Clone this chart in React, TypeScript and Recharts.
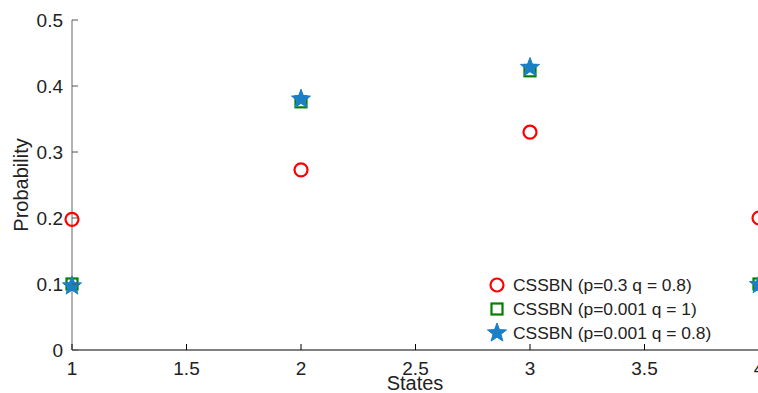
import React from 'react';
import { ScatterChart, Scatter, XAxis, YAxis, Label } from 'recharts';

const states = [1, 2, 3, 4];
const seriesA = [0.198, 0.273, 0.33, 0.2]; // p=0.3 q=0.8
const seriesB = [0.1, 0.376, 0.423, 0.1]; // p=0.001 q=1
const seriesC = [0.097, 0.38, 0.428, 0.099]; // p=0.001 q=0.8
const xTicks = [1, 1.5, 2, 2.5, 3, 3.5, 4];
const yTicks = [0, 0.1, 0.2, 0.3, 0.4, 0.5];
const names = ['CSSBN (p=0.3 q = 0.8)', 'CSSBN (p=0.001 q = 1)', 'CSSBN (p=0.001 q = 0.8)'];

const RED = '#ff0000';
const GREEN = '#008000';
const BLUE = '#1b7fc6';
const FONT = '"Liberation Sans", Arial, Helvetica, sans-serif';

const dataA = states.map((s, i) => ({ x: s, y: seriesA[i] }));
const dataB = states.map((s, i) => ({ x: s, y: seriesB[i] }));
const dataC = states.map((s, i) => ({ x: s, y: seriesC[i] }));

const starPath = (cx: number, cy: number, R: number, r: number) => {
  let d = '';
  for (let i = 0; i < 10; i++) {
    const rad = i % 2 === 0 ? R : r;
    const a = -Math.PI / 2 + (i * Math.PI) / 5;
    d += (i === 0 ? 'M' : 'L') + (cx + rad * Math.cos(a)).toFixed(2) + ',' + (cy + rad * Math.sin(a)).toFixed(2);
  }
  return d + 'Z';
};

const Circle = (p: any) => <circle cx={p.cx} cy={p.cy} r={6.5} fill="none" stroke={RED} strokeWidth={2.2} />;
const Square = (p: any) => <rect x={p.cx - 5.5} y={p.cy - 5.5} width={11} height={11} fill="none" stroke={GREEN} strokeWidth={2.2} />;
const Star = (p: any) => (
  <path d={starPath(p.cx, p.cy, 10, 4.2)} fill={BLUE} stroke={BLUE} strokeWidth={1} />
);

const XTick = (p: any) => {
  const { x, y, payload } = p;
  return (
    <g>
      <line x1={x} x2={x} y1={y} y2={y - 6} stroke="#000" strokeWidth={1} />
      <text x={x} y={y + 25} textAnchor="middle" fontSize={19} fontFamily={FONT} fill="#222">
        {payload.value}
      </text>
    </g>
  );
};

const YTick = (p: any) => {
  const { x, y, payload } = p;
  return (
    <g>
      <line x1={x} x2={x + 6} y1={y} y2={y} stroke="#555" strokeWidth={1} />
      <text x={x - 9} y={y} dy="0.36em" textAnchor="end" fontSize={19} fontFamily={FONT} fill="#222">
        {payload.value}
      </text>
    </g>
  );
};

const LegendBox = () => {
  const markers = [
    <circle cx={10} cy={10} r={6.5} fill="none" stroke={RED} strokeWidth={2.2} />,
    <rect x={4.5} y={4.5} width={11} height={11} fill="none" stroke={GREEN} strokeWidth={2.2} />,
    <path d={starPath(10, 10, 10, 4.2)} fill={BLUE} stroke={BLUE} strokeWidth={1} />,
  ];
  return (
    <div style={{ position: 'absolute', left: 487, top: 273, fontFamily: FONT, fontSize: 17.4, color: '#222', whiteSpace: 'nowrap' }}>
      {names.map((n, i) => (
        <div key={n} style={{ display: 'flex', alignItems: 'center', height: 24 }}>
          <svg width={20} height={20} style={{ marginRight: 6 }}>
            {markers[i]}
          </svg>
          <span>{n}</span>
        </div>
      ))}
    </div>
  );
};

export default function App() {
  return (
    <div style={{ position: 'absolute', left: 0, top: 0, width: 758, height: 393, overflow: 'hidden', background: '#fff' }}>
      <ScatterChart width={800} height={393} margin={{ top: 20, right: 41, bottom: 0, left: 0 }}>
        <XAxis
          type="number"
          dataKey="x"
          domain={[1, 4]}
          ticks={xTicks}
          tick={<XTick />}
          tickLine={false}
          tickSize={0}
          tickMargin={0}
          height={43}
          stroke="#000"
          axisLine={{ stroke: '#000', strokeWidth: 1 }}
        >
          <Label
            content={() => (
              <text x={415} y={390} textAnchor="middle" fontSize={20} fontFamily={FONT} fill="#222">
                States
              </text>
            )}
          />
        </XAxis>
        <YAxis
          type="number"
          dataKey="y"
          domain={[0, 0.5]}
          ticks={yTicks}
          tick={<YTick />}
          tickLine={false}
          tickSize={0}
          tickMargin={0}
          width={72}
          axisLine={{ stroke: '#666', strokeWidth: 1 }}
        >
          <Label
            content={() => (
              <text x={28} y={185} transform="rotate(-90 28 185)" textAnchor="middle" fontSize={20} fontFamily={FONT} fill="#222">
                Probability
              </text>
            )}
          />
        </YAxis>
        <Scatter name={names[0]} data={dataA} shape={<Circle />} isAnimationActive={false} />
        <Scatter name={names[1]} data={dataB} shape={<Square />} isAnimationActive={false} />
        <Scatter name={names[2]} data={dataC} shape={<Star />} isAnimationActive={false} />
      </ScatterChart>
      <LegendBox />
    </div>
  );
}
